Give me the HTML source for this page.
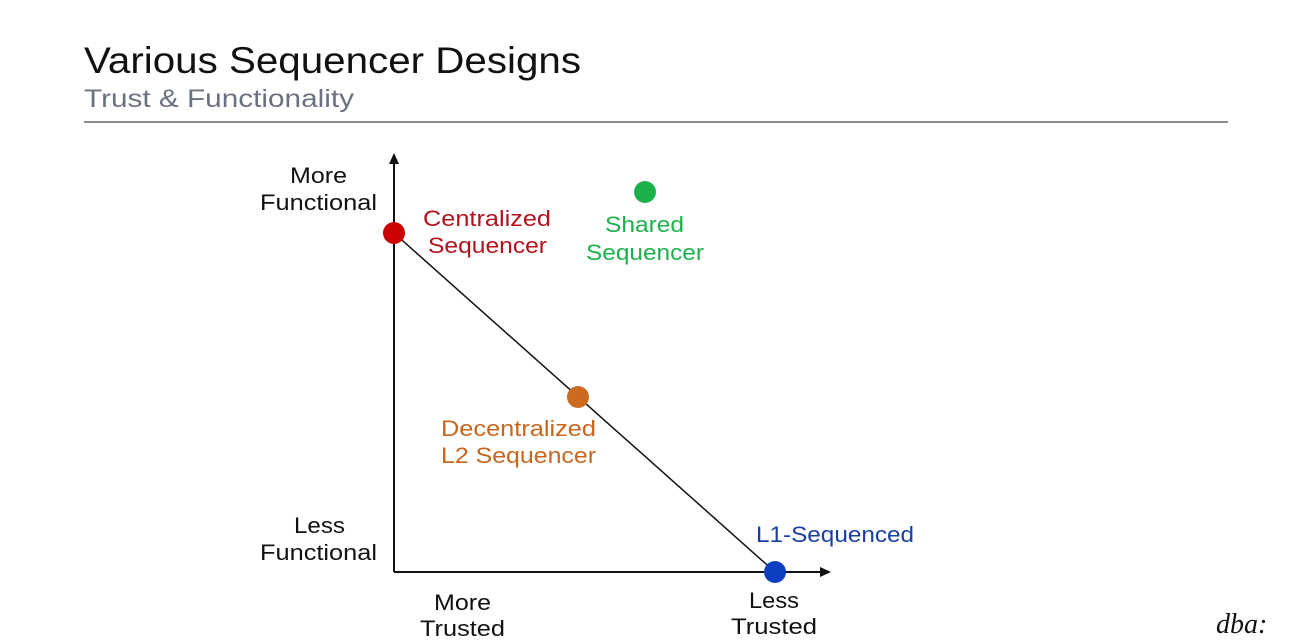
<!DOCTYPE html>
<html><head><style>
body{margin:0;width:1310px;height:636px;overflow:hidden;background:#fff;}
</style></head><body>
<svg width="1310" height="636" xmlns="http://www.w3.org/2000/svg" font-family="Liberation Sans, sans-serif">
<text x="84" y="73" font-size="37" fill="#111" textLength="497" lengthAdjust="spacingAndGlyphs">Various Sequencer Designs</text>
<text x="84" y="107" font-size="25" fill="#6b7180" textLength="270" lengthAdjust="spacingAndGlyphs">Trust &amp; Functionality</text>
<line x1="84" y1="122" x2="1228" y2="122" stroke="#666" stroke-width="1.5"/>
<line x1="394" y1="572" x2="394" y2="162" stroke="#111" stroke-width="2"/>
<polygon points="394,153 389,164 399,164" fill="#111"/>
<line x1="394" y1="572" x2="822" y2="572" stroke="#111" stroke-width="2"/>
<polygon points="831,572 820,567 820,577" fill="#111"/>
<line x1="394" y1="233" x2="775" y2="572" stroke="#111" stroke-width="1.5"/>
<circle cx="394" cy="233" r="11" fill="#cc0000"/>
<circle cx="578" cy="397" r="11" fill="#cc6a1f"/>
<circle cx="775" cy="572" r="11" fill="#0b3fbf"/>
<circle cx="645" cy="192" r="11" fill="#1db14b"/>
<g font-size="22" fill="#111" lengthAdjust="spacingAndGlyphs">
<text x="290" y="183" textLength="57" lengthAdjust="spacingAndGlyphs">More</text><text x="260" y="210" textLength="117" lengthAdjust="spacingAndGlyphs">Functional</text>
<text x="294" y="533" textLength="51" lengthAdjust="spacingAndGlyphs">Less</text><text x="260" y="560" textLength="117" lengthAdjust="spacingAndGlyphs">Functional</text>
<text x="434" y="610" textLength="57" lengthAdjust="spacingAndGlyphs">More</text><text x="420" y="636" textLength="85" lengthAdjust="spacingAndGlyphs">Trusted</text>
<text x="749" y="608" textLength="50" lengthAdjust="spacingAndGlyphs">Less</text><text x="731" y="634" textLength="86" lengthAdjust="spacingAndGlyphs">Trusted</text>
</g>
<g font-size="22" fill="#b3121d"><text x="423" y="226" textLength="128" lengthAdjust="spacingAndGlyphs">Centralized</text><text x="428" y="253" textLength="119" lengthAdjust="spacingAndGlyphs">Sequencer</text></g>
<g font-size="22" fill="#1db14b"><text x="605" y="232" textLength="79" lengthAdjust="spacingAndGlyphs">Shared</text><text x="586" y="260" textLength="118" lengthAdjust="spacingAndGlyphs">Sequencer</text></g>
<g font-size="22" fill="#c9651c"><text x="441" y="436" textLength="155" lengthAdjust="spacingAndGlyphs">Decentralized</text><text x="441" y="463" textLength="155" lengthAdjust="spacingAndGlyphs">L2 Sequencer</text></g>
<text x="756" y="542" font-size="22" fill="#1a3ea8" textLength="158" lengthAdjust="spacingAndGlyphs">L1-Sequenced</text>
<text x="1216" y="633" font-size="28" font-style="italic" font-family="Liberation Serif, serif" fill="#111">dba:</text>
</svg>
</body></html>
